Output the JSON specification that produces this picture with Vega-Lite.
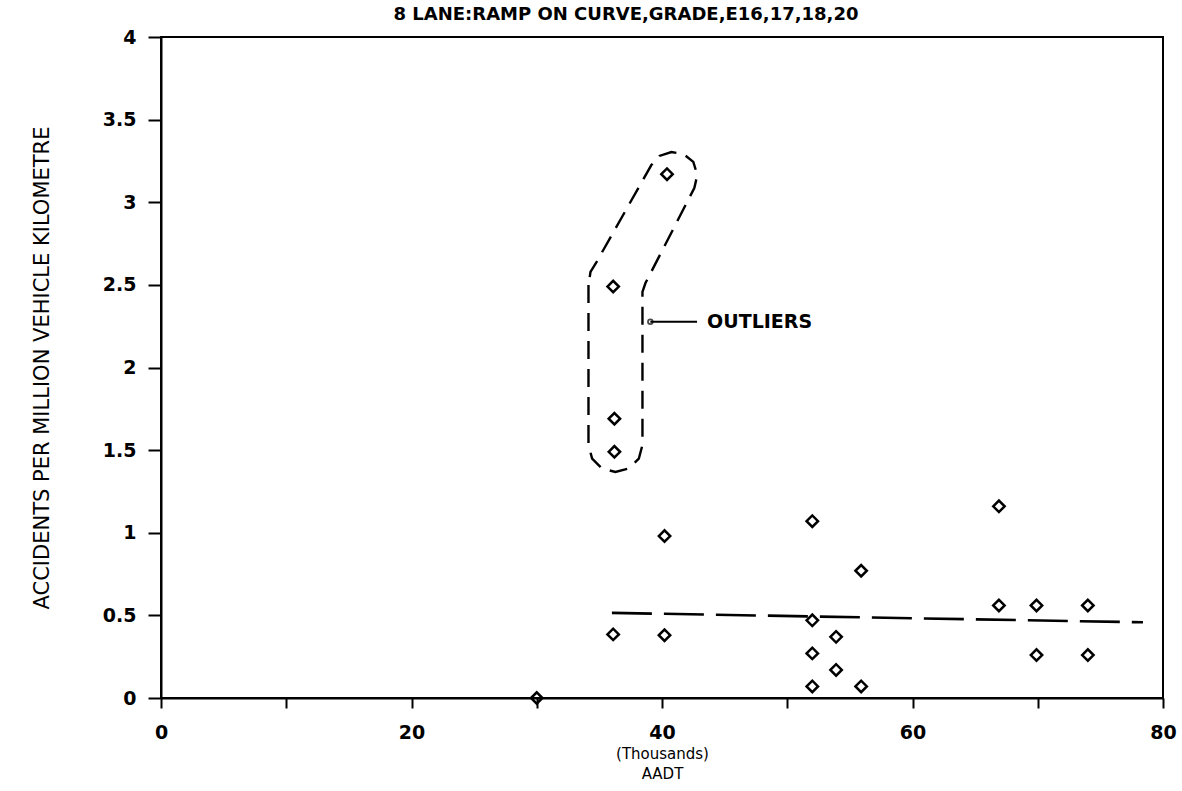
{
  "$schema": "https://vega.github.io/schema/vega-lite/v6.json",
  "width": 1002,
  "height": 661,
  "autosize": {"type": "none"},
  "padding": {"left": 161, "top": 37, "right": 19, "bottom": 93},
  "background": "white",
  "title": {
    "text": "8 LANE:RAMP ON CURVE,GRADE,E16,17,18,20",
    "font": "DejaVu Sans",
    "fontSize": 18,
    "fontWeight": "bold",
    "anchor": "middle",
    "dx": -36,
    "offset": 4,
    "color": "black"
  },
  "config": {
    "view": {"stroke": "black", "strokeWidth": 2},
    "axis": {
      "domainColor": "black",
      "domainWidth": 2,
      "tickColor": "black",
      "tickWidth": 2,
      "grid": false,
      "labelColor": "black",
      "titleColor": "black",
      "labelFont": "DejaVu Sans",
      "titleFont": "DejaVu Sans",
      "labelFontWeight": "bold",
      "titleFontWeight": "normal"
    }
  },
  "datasets": {
    "points": [
      {"aadt": 30, "rate": 0},
      {"aadt": 36.1, "rate": 2.49},
      {"aadt": 36.2, "rate": 1.69},
      {"aadt": 36.2, "rate": 1.49},
      {"aadt": 40.4, "rate": 3.17},
      {"aadt": 36.1, "rate": 0.385},
      {"aadt": 40.2, "rate": 0.38},
      {"aadt": 40.2, "rate": 0.98},
      {"aadt": 52.0, "rate": 1.07},
      {"aadt": 52.0, "rate": 0.47},
      {"aadt": 52.0, "rate": 0.27},
      {"aadt": 52.0, "rate": 0.07},
      {"aadt": 53.9, "rate": 0.37},
      {"aadt": 53.9, "rate": 0.17},
      {"aadt": 55.9, "rate": 0.77},
      {"aadt": 55.9, "rate": 0.07},
      {"aadt": 66.9, "rate": 1.16},
      {"aadt": 66.9, "rate": 0.56},
      {"aadt": 69.9, "rate": 0.56},
      {"aadt": 69.9, "rate": 0.26},
      {"aadt": 74.0, "rate": 0.56},
      {"aadt": 74.0, "rate": 0.26}
    ],
    "trend": [
      {"aadt": 36.0, "rate": 0.515},
      {"aadt": 78.4, "rate": 0.458}
    ],
    "outline": [
      {"i": 0, "aadt": 34.13, "rate": 2.499},
      {"i": 1, "aadt": 34.13, "rate": 1.531},
      {"i": 2, "aadt": 34.42, "rate": 1.449},
      {"i": 3, "aadt": 35.21, "rate": 1.389},
      {"i": 4, "aadt": 36.28, "rate": 1.368},
      {"i": 5, "aadt": 37.36, "rate": 1.389},
      {"i": 6, "aadt": 38.15, "rate": 1.449},
      {"i": 7, "aadt": 38.44, "rate": 1.531},
      {"i": 8, "aadt": 38.44, "rate": 2.457},
      {"i": 9, "aadt": 38.68, "rate": 2.511},
      {"i": 10, "aadt": 42.58, "rate": 3.086},
      {"i": 11, "aadt": 42.82, "rate": 3.165},
      {"i": 12, "aadt": 42.50, "rate": 3.244},
      {"i": 13, "aadt": 41.71, "rate": 3.292},
      {"i": 14, "aadt": 40.75, "rate": 3.304},
      {"i": 15, "aadt": 39.79, "rate": 3.280},
      {"i": 16, "aadt": 39.15, "rate": 3.225},
      {"i": 17, "aadt": 34.77, "rate": 2.638},
      {"i": 18, "aadt": 34.29, "rate": 2.578},
      {"i": 19, "aadt": 34.13, "rate": 2.499}
    ],
    "callout": [
      {"aadt": 39.07, "rate": 2.277},
      {"aadt": 42.8, "rate": 2.277}
    ],
    "calloutEnd": [
      {"aadt": 39.07, "rate": 2.277}
    ],
    "label": [
      {"aadt": 43.6, "rate": 2.277, "text": "OUTLIERS"}
    ]
  },
  "encoding": {
    "x": {
      "field": "aadt",
      "type": "quantitative",
      "scale": {"domain": [0, 80], "nice": false, "zero": false},
      "axis": {
        "values": [0, 10, 20, 30, 40, 50, 60, 70, 80],
        "labelExpr": "datum.value % 20 == 0 ? datum.label : ''",
        "title": ["(Thousands)", "AADT"],
        "tickSize": 10,
        "labelPadding": 15,
        "labelFontSize": 19,
        "titleFontSize": 15,
        "titleLineHeight": 20,
        "titlePadding": 4,
        "labelFlush": false
      }
    },
    "y": {
      "field": "rate",
      "type": "quantitative",
      "scale": {"domain": [0, 4], "nice": false, "zero": false},
      "axis": {
        "values": [0, 0.5, 1, 1.5, 2, 2.5, 3, 3.5, 4],
        "labelExpr": "'' + datum.value",
        "title": "ACCIDENTS PER MILLION VEHICLE KILOMETRE",
        "tickSize": 13,
        "labelPadding": 12,
        "labelFontSize": 19,
        "titleFontSize": 21,
        "titlePadding": 50,
        "labelFlush": false
      }
    }
  },
  "layer": [
    {
      "data": {"name": "outline"},
      "mark": {"type": "line", "color": "black", "strokeWidth": 2.4, "strokeDash": [18, 10]},
      "encoding": {"order": {"field": "i", "type": "quantitative"}}
    },
    {
      "data": {"name": "trend"},
      "mark": {"type": "line", "color": "black", "strokeWidth": 2.6, "strokeDash": [40, 12]},
      "encoding": {}
    },
    {
      "data": {"name": "callout"},
      "mark": {"type": "line", "color": "black", "strokeWidth": 2},
      "encoding": {}
    },
    {
      "data": {"name": "calloutEnd"},
      "mark": {"type": "point", "shape": "circle", "filled": false, "color": "black", "size": 22, "strokeWidth": 1.8},
      "encoding": {}
    },
    {
      "data": {"name": "label"},
      "mark": {"type": "text", "align": "left", "baseline": "middle", "font": "DejaVu Sans", "fontSize": 19, "fontWeight": "bold", "color": "black"},
      "encoding": {"text": {"field": "text", "type": "nominal"}}
    },
    {
      "data": {"name": "points"},
      "mark": {"type": "point", "shape": "diamond", "filled": false, "color": "black", "size": 130, "strokeWidth": 2.5, "opacity": 1},
      "encoding": {}
    }
  ]
}
